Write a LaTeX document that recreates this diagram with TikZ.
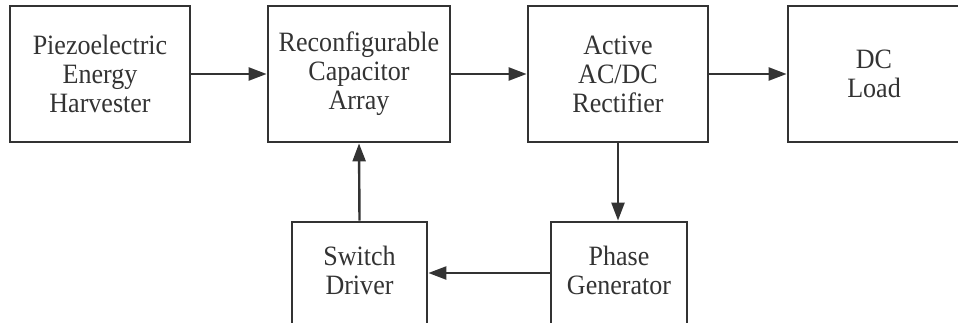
\documentclass[tikz,border=0pt]{standalone}
\usepackage{fontspec}
\setmainfont[FakeStretch=0.93]{Liberation Serif}
\usetikzlibrary{arrows.meta}
\definecolor{ink}{HTML}{333333}
\begin{document}
\begin{tikzpicture}[x=1pt,y=-1pt,
  label text/.style={align=center, text=ink, inner sep=0pt,
    font=\fontsize{28}{29}\selectfont},
  block/.style={draw=ink, line width=2.8pt, rectangle, label text},
  flow/.style={draw=ink, line width=2.4pt, -{Triangle[length=18pt,width=13pt]}}]
\useasboundingbox (0,0) rectangle (958,323);
\clip (0,0) rectangle (958,323);
% top row
\node[block, minimum width=180pt, minimum height=136pt] (peh) at (100,74) {Piezoelectric\\Energy\\Harvester};
\node[block, minimum width=182pt, minimum height=136pt] (rca) at (359,74) {Reconfigurable\\Capacitor\\Array};
\node[block, minimum width=180pt, minimum height=136pt] (rect) at (618,74) {Active\\AC/DC\\Rectifier};
\node[block, minimum width=172pt, minimum height=136pt] (load) at (874,74) {DC\\Load};
% bottom row: boxes run past the lower edge, text sits a little above their centres
\node[block, minimum width=135pt, minimum height=104pt] (sd) at (359.5,274) {};
\node[label text] (sdtext) at (359.5,270) {Switch\\Driver};
\node[block, minimum width=136pt, minimum height=104pt] (pg) at (619,274) {};
\node[label text] (pgtext) at (619,270) {Phase\\Generator};
% connectors
\draw[flow] (peh) -- (rca);
\draw[flow] (rca) -- (rect);
\draw[flow] (rect) -- (load);
\draw[flow] (rect.south) -- (rect.south |- pg.north);
\draw[flow] (pg.west |- 0,273) -- (sd.east |- 0,273);
\draw[flow] (sd.north) -- (rca.south);
\end{tikzpicture}
\end{document}
